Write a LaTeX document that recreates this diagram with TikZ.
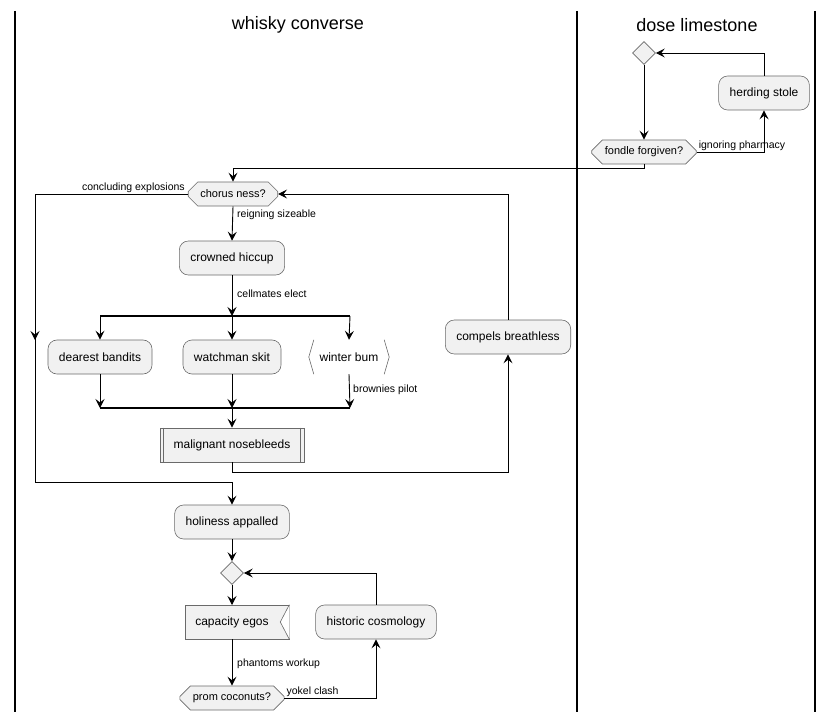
\documentclass[tikz,border=0pt]{standalone}
\usepackage{fontspec}
\setmainfont{Liberation Sans}
\usetikzlibrary{arrows.meta,shapes.geometric,shapes.misc,calc}

\definecolor{boxfill}{HTML}{F1F1F1}
\definecolor{boxline}{HTML}{6A6A6A}

\tikzset{
  act/.style={draw=boxline, fill=boxfill, line width=0.6pt, rounded corners=9pt,
    minimum height=34pt, inner xsep=11pt, font=\fontsize{12}{14}\selectfont},
  hexa/.style={draw=boxline, fill=boxfill, line width=0.6pt, chamfered rectangle,
    chamfered rectangle xsep=2cm, chamfered rectangle angle=45, chamfered rectangle corners={north west,south west,north east,south east},
    minimum height=24pt, inner xsep=6pt, inner ysep=2pt, font=\fontsize{11}{13}\selectfont},
  merge/.style={draw=boxline, fill=boxfill, line width=0.6pt, diamond, minimum size=23pt, inner sep=0pt},
  flow/.style={line width=0.9pt, -{Stealth[length=9pt,width=9pt,inset=3.5pt]}},
  plain/.style={line width=0.9pt},
  lbl/.style={font=\fontsize{10.5}{12}\selectfont, inner sep=1pt},
  lane/.style={line width=1.8pt},
  bar/.style={line width=2.2pt},
  title/.style={font=\fontsize{18}{21}\selectfont}
}

\begin{document}
\begin{tikzpicture}[x=1pt,y=-1pt]
\useasboundingbox (0,0) rectangle (834,722);

% swimlane borders and headings
\draw[lane] (15,11) -- (15,712);
\draw[lane] (577,11) -- (577,712);
\draw[lane] (815,11) -- (815,712);
\node[title] (t1) at (298,25) {whisky converse};
\node[title] (t2) at (697,25) {dose limestone};

% ---------- dose limestone ----------
\node[merge] (m1) at (644,53) {};
\node[act] (hs) at (764,93) {herding stole};
\node[hexa, minimum width=100pt] (ff) at (644,152) {fondle forgiven?};

\draw[flow] (m1.south) -- (ff.north);
\draw[flow] (ff.east) -| (hs.south);
\node[lbl, anchor=south west] (l1) at ($(ff.east)+(1,0)$) {ignoring pharmacy};
\draw[flow] (hs.north) |- (m1.east);

% ---------- whisky converse ----------
\node[hexa, minimum width=89pt] (cn) at (233,194) {chorus ness?};
\coordinate (j0) at (644,168);
\draw[flow] (ff.south) -- (j0) -| (cn.north);

\node[act] (ch) at (232,258) {crowned hiccup};
\draw[flow] (cn.south) -- (ch.north);
\node[lbl, anchor=west] (l2) at (236,215) {reigning sizeable};

% fork
\coordinate (fk) at (232,316);
\coordinate (fkL) at (100,316);
\coordinate (fkR) at (350,316);
\draw[bar] (fkL) -- (fkR);
\draw[flow] (ch.south) -- (fk);
\node[lbl, anchor=west] (l3) at (236,294) {cellmates elect};

\node[act] (db) at (100,357) {dearest bandits};
\node[act] (ws) at (232,357) {watchman skit};
\node[font=\fontsize{12}{14}\selectfont, minimum height=34pt, minimum width=80pt] (wb) at (349,357) {winter bum};
\draw[boxline, line width=0.6pt] ($(wb.north west)+(5,0)$) -- ($(wb.west)$) -- ($(wb.south west)+(5,0)$);
\draw[boxline, line width=0.6pt] ($(wb.north east)+(-5,0)$) -- ($(wb.east)$) -- ($(wb.south east)+(-5,0)$);

\draw[flow] (fkL) -- (db.north);
\draw[flow] (fk) -- (ws.north);
\draw[flow] (fkR) -- (wb.north);

% join
\coordinate (jn) at (232,408);
\coordinate (jnL) at (100,408);
\coordinate (jnR) at (350,408);
\draw[bar] (jnL) -- (jnR);
\draw[flow] (db.south) -- (jnL);
\draw[flow] (ws.south) -- (jn);
\draw[flow] (wb.south) -- (jnR);
\node[lbl, anchor=west] (l4) at (352,390) {brownies pilot};

% sub-process box
\node[draw=boxline, fill=boxfill, line width=0.6pt, minimum height=34pt, minimum width=144pt,
  font=\fontsize{12}{14}\selectfont] (mn) at (232,445) {malignant nosebleeds};
\draw[boxline, line width=0.6pt] ($(mn.north west)+(4,0)$) -- ($(mn.south west)+(4,0)$);
\draw[boxline, line width=0.6pt] ($(mn.north east)+(-4,0)$) -- ($(mn.south east)+(-4,0)$);
\draw[flow] (jn) -- (mn.north);

\node[act] (cb) at (508,337) {compels breathless};
\coordinate (c1) at (232,472);
\draw[flow] (mn.south) -- (c1) -| (cb.south);
\draw[flow] (cb.north) |- (cn.east);

% exit of the loop
\node[act] (ha) at (232,522) {holiness appalled};
\coordinate (e1) at (35,194);
\coordinate (e2) at (35,482);
\draw[plain] (cn.west) -- (e1) -- (e2);
\draw[flow] (e2) -| (ha.north);
\draw[flow] (e1) -- (35,340);
\node[lbl, anchor=south east] (l5) at ($(cn.west)+(-2,0)$) {concluding explosions};

% repeat loop
\node[merge] (m2) at (232,573) {};
\draw[flow] (ha.south) -- (m2.north);

\node[draw=boxline, fill=boxfill, line width=0.6pt, minimum height=34pt, minimum width=104pt,
  font=\fontsize{12}{14}\selectfont, inner xsep=0pt] (ce) at (237,622) {\hspace*{-10pt}capacity egos};
\fill[white] ($(ce.north east)+(0.4,0.4)$) -- ($(ce.east)+(-9,0)$) -- ($(ce.south east)+(0.4,-0.4)$) -- cycle;
\draw[boxline, line width=0.6pt] (ce.north east) -- ($(ce.east)+(-9,0)$) -- (ce.south east);
\draw[flow] (m2.south) -- (232,605);

\node[hexa, minimum width=102pt] (pc) at (232,698) {prom coconuts?};
\draw[flow] (232,639) -- (pc.north);
\node[lbl, anchor=west] (l6) at (236,664) {phantoms workup};

\node[act] (hc) at (376,622) {historic cosmology};
\draw[flow] (pc.east) -| (hc.south);
\node[lbl, anchor=south west] (l7) at ($(pc.east)+(1,0)$) {yokel clash};
\draw[flow] (hc.north) |- (m2.east);

\end{tikzpicture}
\end{document}
